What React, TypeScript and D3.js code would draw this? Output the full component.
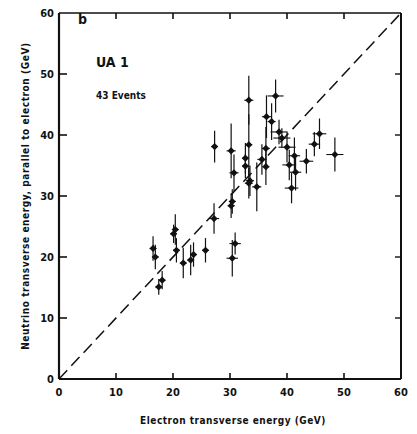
import React from "react";
import * as d3 from "d3";

// Electron transverse energy (GeV)
const electronEt = [
  33.3, 38.0, 36.4, 37.3, 38.6, 39.1, 27.3, 30.2, 33.3, 36.3,
  40.0, 44.8, 45.7, 48.4, 41.3, 43.4, 32.7, 35.6, 36.3, 40.4,
  41.5, 32.7, 30.7, 33.5, 33.3, 34.7, 40.8, 30.4, 30.2, 27.2,
  20.4, 16.5, 16.9, 20.6, 21.8, 23.1, 23.6, 25.7, 30.9, 30.4,
  18.1, 17.5, 20.1,
];
// Neutrino transverse energy parallel to electron (GeV)
const neutrinoEt = [
  45.7, 46.4, 43.0, 42.2, 40.5, 39.5, 38.1, 37.4, 38.4, 37.8,
  38.0, 38.5, 40.2, 36.8, 36.6, 35.7, 36.2, 36.0, 34.8, 35.1,
  33.9, 34.9, 33.8, 32.5, 32.1, 31.5, 31.3, 29.1, 28.4, 26.3,
  24.5, 21.4, 20.0, 21.1, 19.0, 19.5, 20.4, 21.1, 22.2, 19.8,
  16.2, 15.1, 23.8,
];
// vertical error half-lengths (GeV)
const neutrinoErr = [
  4.0, 2.7, 3.5, 3.0, 2.0, 1.6, 2.6, 4.5, 5.0, 3.5,
  2.5, 2.0, 2.5, 2.8, 3.0, 2.0, 2.5, 2.5, 3.0, 2.5,
  3.0, 2.0, 3.0, 2.5, 2.5, 4.0, 2.5, 2.0, 2.0, 2.5,
  2.5, 2.0, 2.0, 2.0, 2.5, 2.5, 2.0, 2.0, 1.8, 3.0,
  1.5, 1.3, 1.5,
];
// horizontal error half-lengths (GeV)
const electronErr = [
  0.8, 1.4, 0.8, 0.7, 1.5, 1.5, 0.6, 0.8, 0.6, 0.7,
  1.5, 1.0, 1.2, 1.5, 1.0, 1.2, 0.6, 0.8, 0.6, 1.2,
  1.0, 0.6, 0.8, 0.7, 0.7, 0.8, 1.2, 0.6, 0.6, 0.9,
  0.6, 0.6, 0.6, 0.6, 0.6, 0.6, 0.6, 0.6, 1.0, 1.0,
  0.6, 0.6, 0.6,
];
const xTicks = [0, 10, 20, 30, 40, 50, 60];
const yTicks = [0, 10, 20, 30, 40, 50, 60];

const W = 417;
const H = 434;
const FONT = "'DejaVu Sans Condensed', 'DejaVu Sans', sans-serif";

export default function App() {
  const x = d3.scaleLinear().domain([0, 60]).range([59, 401]);
  const y = d3.scaleLinear().domain([0, 60]).range([379, 13]);
  const diamond = d3.symbol().type(d3.symbolSquare).size(26)();
  const line = d3.line<number>().x((v) => x(v)).y((v) => y(v));

  return (
    <svg
      width={W}
      height={H}
      style={{ position: "absolute", left: 0, top: 0, background: "#fff" }}
      fontFamily={FONT}
    >
      <rect x={0} y={0} width={W} height={H} fill="#fff" />
      {/* frame */}
      <line x1={x(0)} x2={x(60)} y1={y(60)} y2={y(60)} stroke="#111" strokeWidth={1.3} />
      <line x1={x(60)} x2={x(60)} y1={y(60)} y2={y(0)} stroke="#111" strokeWidth={2} />
      <line x1={x(0)} x2={x(0)} y1={y(60)} y2={y(0)} stroke="#111" strokeWidth={2.2} />
      <line x1={x(0)} x2={x(60)} y1={y(0)} y2={y(0)} stroke="#111" strokeWidth={2} />

      {/* ticks */}
      {xTicks.slice(1, -1).map((t) => (
        <g key={"xt" + t}>
          <line x1={x(t)} x2={x(t)} y1={y(0)} y2={y(0) - 6} stroke="#111" strokeWidth={1.6} />
          <line x1={x(t)} x2={x(t)} y1={y(60)} y2={y(60) + 6} stroke="#111" strokeWidth={1.6} />
        </g>
      ))}
      {yTicks.slice(1, -1).map((t) => (
        <g key={"yt" + t}>
          <line x1={x(0)} x2={x(0) + 8} y1={y(t)} y2={y(t)} stroke="#111" strokeWidth={1.6} />
          <line x1={x(60)} x2={x(60) - 6} y1={y(t)} y2={y(t)} stroke="#111" strokeWidth={1.4} />
        </g>
      ))}

      {/* tick labels */}
      {xTicks.map((t) => (
        <text
          key={"xl" + t}
          x={x(t)}
          y={y(0) + 17}
          textAnchor="middle"
          fontSize={11}
          fontWeight="bold"
          fill="#111"
        >
          {t}
        </text>
      ))}
      {yTicks.map((t) => (
        <text
          key={"yl" + t}
          x={x(0) - 5}
          y={y(t) + 4}
          textAnchor="end"
          fontSize={11}
          fontWeight="bold"
          fill="#111"
        >
          {t}
        </text>
      ))}

      {/* diagonal */}
      <path
        d={line([0, 60]) || ""}
        stroke="#111"
        strokeWidth={1.5}
        strokeDasharray="12 6"
        fill="none"
      />

      {/* error bars and points */}
      {electronEt.map((ex, i) => {
        const ny = neutrinoEt[i];
        const ey = neutrinoErr[i];
        const exr = electronErr[i];
        return (
          <g key={"p" + i}>
            <line x1={x(ex)} x2={x(ex)} y1={y(ny - ey)} y2={y(ny + ey)} stroke="#111" strokeWidth={1.2} />
            <line x1={x(ex - exr)} x2={x(ex + exr)} y1={y(ny)} y2={y(ny)} stroke="#111" strokeWidth={1.1} />
            <path d={diamond || ""} transform={`translate(${x(ex)},${y(ny)}) rotate(45)`} fill="#111" />
          </g>
        );
      })}

      {/* annotations */}
      <text x={78} y={24} fontSize={14} fontWeight="bold" fill="#111">b</text>
      <text x={96} y={67} fontSize={14} fontWeight="bold" fill="#111">UA 1</text>
      <text x={96} y={99} fontSize={10} fontWeight="bold" fill="#111">43 Events</text>

      {/* axis titles */}
      <text
        x={233}
        y={424}
        textAnchor="middle"
        fontSize={10}
        fontWeight="bold"
        fill="#111"
        letterSpacing={0.5}
      >
        Electron transverse energy (GeV)
      </text>
      <text
        transform={`translate(29,${(y(0) + y(60)) / 2}) rotate(-90)`}
        textAnchor="middle"
        fontSize={10}
        fontWeight="bold"
        fill="#111"
        letterSpacing={0.6}
      >
        Neutrino transverse energy, parallel to electron (GeV)
      </text>
    </svg>
  );
}
